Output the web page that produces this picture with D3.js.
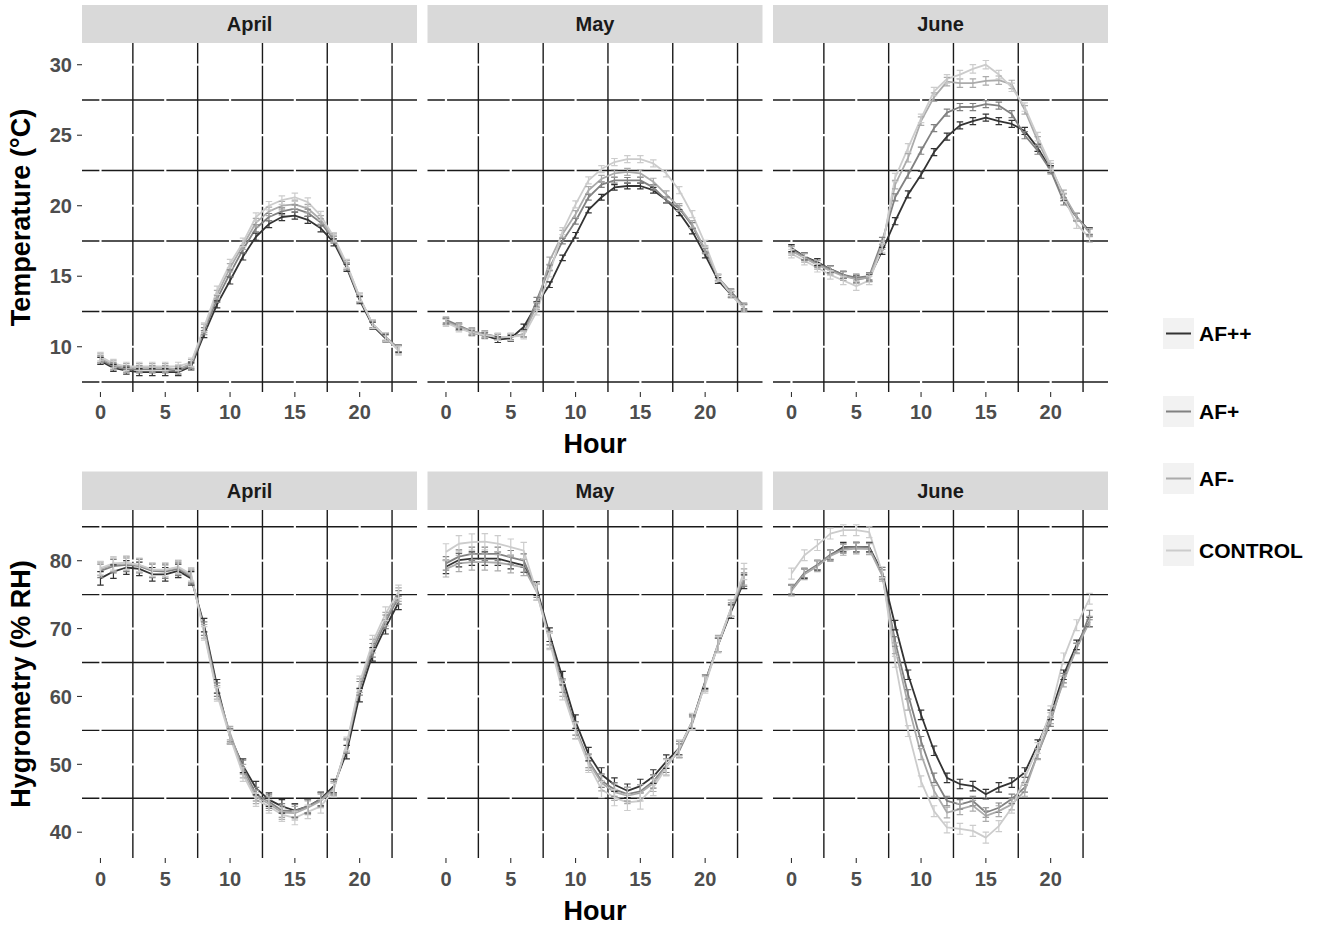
<!DOCTYPE html>
<html>
<head>
<meta charset="utf-8">
<script src="https://cdn.jsdelivr.net/npm/d3@7"></script>
<style>
  html, body { margin: 0; padding: 0; background: #ffffff; }
  svg { display: block; font-family: "Liberation Sans", Arial, sans-serif; }
</style>
</head>
<body>
<svg id="chart" width="1327" height="925"></svg>
<script>
// ---------------- DATA ----------------
const hours = [0,1,2,3,4,5,6,7,8,9,10,11,12,13,14,15,16,17,18,19,20,21,22,23];
const months = ["April", "May", "June"];
const seriesNames = ["AF++", "AF+", "AF-", "CONTROL"];
const seriesColors = ["#333333", "#818181", "#ABABAB", "#CCCCCC"];
const hourTicks = [0, 5, 10, 15, 20];
const tempTicks = [10, 15, 20, 25, 30];
const hygroTicks = [40, 50, 60, 70, 80];

// Temperature (°C)
const tempApril_AFpp = [9.0,8.5,8.3,8.2,8.2,8.2,8.2,8.6,10.9,13.0,14.7,16.4,17.8,18.7,19.2,19.3,19.0,18.4,17.4,15.6,13.3,11.5,10.6,9.85];
const tempApril_AFp  = [9.1,8.6,8.4,8.4,8.4,8.4,8.3,8.7,11.1,13.4,15.2,16.9,18.4,19.2,19.6,19.8,19.5,18.8,17.6,15.7,13.4,11.6,10.7,9.9];
const tempApril_AFm  = [9.2,8.7,8.5,8.5,8.5,8.5,8.4,8.8,11.3,13.7,15.6,17.2,18.8,19.6,20.0,20.1,19.8,19.0,17.7,15.8,13.5,11.6,10.7,9.8];
const tempApril_CTRL = [9.3,8.8,8.6,8.6,8.6,8.6,8.6,8.9,11.4,14.0,15.9,17.4,19.2,20.0,20.4,20.6,20.25,19.3,17.8,15.9,13.5,11.6,10.7,9.7];

const tempMay_AFpp = [11.8,11.4,11.0,10.8,10.5,10.6,11.4,13.0,14.4,16.3,17.9,19.7,20.6,21.3,21.4,21.4,21.1,20.4,19.5,18.2,16.5,14.7,13.7,12.8];
const tempMay_AFp  = [11.9,11.5,11.1,10.9,10.7,10.7,10.9,13.3,15.6,17.5,18.9,20.6,21.5,21.8,21.8,21.8,21.3,20.4,19.8,18.6,16.8,14.9,13.9,12.9];
const tempMay_AFm  = [11.8,11.4,11.1,10.9,10.7,10.7,10.9,12.9,16.1,18.0,19.4,21.1,21.9,22.3,22.4,22.3,21.7,20.8,19.9,18.7,16.9,14.9,13.8,12.8];
const tempMay_CTRL = [11.7,11.3,11.0,10.8,10.7,10.7,10.8,12.5,15.2,18.2,20.1,21.8,22.6,23.1,23.3,23.3,23.0,22.3,21.1,19.4,17.3,14.9,13.7,12.7];

const tempJune_AFpp = [17.0,16.4,16.0,15.5,15.1,14.8,14.9,16.8,18.9,20.8,22.2,23.8,24.9,25.7,26.0,26.25,26.0,25.8,25.3,24.1,22.6,20.6,19.2,18.2];
const tempJune_AFp  = [16.9,16.4,15.9,15.5,15.1,14.9,15.0,17.5,20.6,22.2,23.9,25.5,26.6,27.0,27.0,27.2,27.1,26.5,25.0,23.9,22.5,20.3,19.2,18.1];
const tempJune_AFm  = [16.8,16.3,15.8,15.4,15.0,14.8,14.9,17.2,21.5,23.4,26.0,27.7,28.8,28.7,28.7,28.85,28.9,28.6,26.8,24.6,22.7,20.8,19.2,18.1];
const tempJune_CTRL = [16.6,16.1,15.6,15.1,14.7,14.3,14.7,17.0,22.0,24.1,26.2,28.1,29.0,29.3,29.7,30.0,29.3,28.4,27.0,24.9,22.9,20.6,18.7,17.7];

// Hygrometry (% RH)
const hygroApril_AFpp = [77.4,78.4,79.0,78.8,78.0,78.0,78.5,77.4,70.5,61.5,54.0,49.8,46.5,44.8,43.8,43.2,43.8,44.9,46.8,51.8,60.2,66.2,70.2,73.8];
const hygroApril_AFp  = [78.5,79.2,79.4,79.2,78.5,78.4,78.8,77.6,70.0,61.0,54.3,49.6,45.6,44.5,43.2,43.1,43.8,44.8,46.5,52.6,61.2,66.8,71.0,74.6];
const hygroApril_AFm  = [78.8,79.4,79.6,79.3,78.6,78.6,79.0,77.8,69.6,60.6,54.6,49.0,45.2,44.2,42.9,42.8,43.6,44.6,46.4,52.8,61.6,67.4,71.4,75.0];
const hygroApril_CTRL = [78.9,79.6,79.7,79.4,78.7,78.7,79.1,78.0,69.3,60.3,54.0,48.5,44.8,43.8,42.6,42.1,43.0,43.8,46.2,53.0,62.0,68.0,72.2,75.4];

const hygroMay_AFpp = [79.1,80.1,80.3,80.3,80.3,79.8,79.3,75.9,69.1,62.7,56.3,51.5,48.5,47.0,46.1,46.8,48.2,50.4,52.4,56.3,62.2,67.6,72.5,76.9];
const hygroMay_AFp  = [79.6,80.6,81.0,81.0,81.0,80.5,80.0,75.6,68.6,61.6,55.3,50.5,47.6,46.3,45.6,46.0,47.5,49.8,52.0,56.0,62.0,67.6,72.8,77.2];
const hygroMay_AFm  = [78.8,79.6,79.8,79.8,79.7,79.4,79.0,75.4,68.3,61.2,55.0,50.3,47.3,45.9,45.4,45.8,47.2,49.6,52.2,56.2,62.0,67.8,73.0,77.6];
const hygroMay_CTRL = [81.3,82.5,82.75,82.8,82.5,82.0,81.5,75.4,68.1,60.7,54.9,50.0,46.3,45.1,44.4,44.6,46.6,49.5,52.4,56.3,61.7,67.6,73.0,78.4];

const hygroJune_AFpp = [75.7,78.1,79.3,80.8,82.0,82.0,82.0,78.3,70.5,63.2,57.3,52.0,48.0,47.1,46.8,45.6,46.6,47.3,48.8,52.9,57.3,63.2,67.6,71.0];
const hygroJune_AFp  = [75.8,78.2,79.4,80.9,81.8,82.0,81.9,78.0,68.1,60.3,53.4,48.0,44.6,44.1,44.6,42.9,43.6,44.9,46.6,51.5,56.3,62.7,67.1,72.0];
const hygroJune_AFm  = [75.6,78.0,79.2,80.7,81.6,81.8,81.7,77.8,67.1,58.8,51.5,46.1,42.9,43.4,43.9,42.4,43.1,44.1,46.1,51.5,56.8,62.2,67.1,71.0];
const hygroJune_CTRL = [78.1,80.8,82.3,84.0,84.5,84.5,84.2,78.3,65.1,54.9,47.5,43.1,40.7,40.5,40.2,39.2,40.9,43.6,48.0,52.4,57.8,65.6,70.5,74.4];

// Standard errors (one value per series, per month)
const seTempApril = [0.25, 0.25, 0.3, 0.3];
const seTempMay   = [0.2, 0.2, 0.25, 0.25];
const seTempJune  = [0.25, 0.25, 0.3, 0.3];
const seHygroApril = [1.0, 1.0, 1.0, 1.0];
const seHygroMay   = [1.0, 1.0, 1.2, 1.2];
const seHygroJune  = [0.7, 0.7, 0.8, 0.8];

// Assemble per-panel tables from the arrays above
const tempByMonth = {
  April: [tempApril_AFpp, tempApril_AFp, tempApril_AFm, tempApril_CTRL],
  May:   [tempMay_AFpp, tempMay_AFp, tempMay_AFm, tempMay_CTRL],
  June:  [tempJune_AFpp, tempJune_AFp, tempJune_AFm, tempJune_CTRL]
};
const hygroByMonth = {
  April: [hygroApril_AFpp, hygroApril_AFp, hygroApril_AFm, hygroApril_CTRL],
  May:   [hygroMay_AFpp, hygroMay_AFp, hygroMay_AFm, hygroMay_CTRL],
  June:  [hygroJune_AFpp, hygroJune_AFp, hygroJune_AFm, hygroJune_CTRL]
};
const seTempByMonth = { April: seTempApril, May: seTempMay, June: seTempJune };
const seHygroByMonth = { April: seHygroApril, May: seHygroMay, June: seHygroJune };

// ---------------- LAYOUT ----------------
const svg = d3.select("#chart");
const FONT = '"Liberation Sans", Arial, sans-serif';
const panelLeft0 = 82, panelW = 335, panelStep = 345.5;
const rows = [
  { key: "temp", stripTop: 5, top: 43, bottom: 392, domain: [6.79, 31.54], ticks: tempTicks,
    minor: [7.5, 12.5, 17.5, 22.5, 27.5], title: "Temperature (°C)",
    data: tempByMonth, se: seTempByMonth, tickLabelY: 411.5, hourY: 443 },
  { key: "hygro", stripTop: 471.5, top: 510, bottom: 858, domain: [36.2, 87.47], ticks: hygroTicks,
    minor: [45, 55, 65, 75, 85], title: "Hygrometry (% RH)",
    data: hygroByMonth, se: seHygroByMonth, tickLabelY: 878.5, hourY: 910 }
];
const xMinor = [2.5, 7.5, 12.5, 17.5, 22.5];
const xDomain = [-1.425, 24.425];

rows.forEach(row => {
  const y = d3.scaleLinear().domain(row.domain).range([row.bottom, row.top]);

  months.forEach((m, i) => {
    const left = panelLeft0 + i * panelStep;
    const x = d3.scaleLinear().domain(xDomain).range([left, left + panelW]);
    const g = svg.append("g");

    // strip
    g.append("rect").attr("x", left).attr("y", row.stripTop)
      .attr("width", panelW).attr("height", row.top - row.stripTop).attr("fill", "#D9D9D9");
    g.append("text").attr("x", left + panelW / 2).attr("y", (row.stripTop + row.top) / 2)
      .attr("dy", "0.36em").attr("text-anchor", "middle")
      .attr("font-family", FONT).attr("font-size", 20).attr("font-weight", "bold")
      .attr("fill", "#1A1A1A").text(m);

    // minor grid (black)
    g.selectAll(".vmin").data(xMinor).enter().append("line")
      .attr("x1", d => x(d)).attr("x2", d => x(d)).attr("y1", row.top).attr("y2", row.bottom)
      .attr("stroke", "#1a1a1a").attr("stroke-width", 1.4);
    g.selectAll(".hmin").data(row.minor).enter().append("line")
      .attr("x1", left).attr("x2", left + panelW).attr("y1", d => y(d)).attr("y2", d => y(d))
      .attr("stroke", "#1a1a1a").attr("stroke-width", 1.4);
    // major grid (white)
    g.selectAll(".vmaj").data(hourTicks).enter().append("line")
      .attr("x1", d => x(d)).attr("x2", d => x(d)).attr("y1", row.top).attr("y2", row.bottom)
      .attr("stroke", "#ffffff").attr("stroke-width", 2.2);
    g.selectAll(".hmaj").data(row.ticks).enter().append("line")
      .attr("x1", left).attr("x2", left + panelW).attr("y1", d => y(d)).attr("y2", d => y(d))
      .attr("stroke", "#ffffff").attr("stroke-width", 2.2);

    // x ticks and labels
    g.selectAll(".xt").data(hourTicks).enter().append("line")
      .attr("x1", d => x(d)).attr("x2", d => x(d)).attr("y1", row.bottom).attr("y2", row.bottom + 5)
      .attr("stroke", "#333333").attr("stroke-width", 1.1);
    g.selectAll(".xl").data(hourTicks).enter().append("text")
      .attr("x", d => x(d)).attr("y", row.tickLabelY).attr("dy", "0.36em")
      .attr("text-anchor", "middle").attr("font-family", FONT).attr("font-size", 20)
      .attr("font-weight", "bold").attr("fill", "#4D4D4D").text(d => d);

    // y ticks and labels (first column only)
    if (i === 0) {
      g.selectAll(".yt").data(row.ticks).enter().append("line")
        .attr("x1", left - 5).attr("x2", left).attr("y1", d => y(d)).attr("y2", d => y(d))
        .attr("stroke", "#333333").attr("stroke-width", 1.1);
      g.selectAll(".yl").data(row.ticks).enter().append("text")
        .attr("x", left - 10).attr("y", d => y(d)).attr("dy", "0.36em")
        .attr("text-anchor", "end").attr("font-family", FONT).attr("font-size", 20)
        .attr("font-weight", "bold").attr("fill", "#4D4D4D").text(d => d);
    }

    // series
    const values = row.data[m];
    const ses = row.se[m];
    const line = d3.line().x(d => x(d.h)).y(d => y(d.v));
    values.forEach((arr, s) => {
      const pts = hours.map((h, k) => ({ h: h, v: arr[k] }));
      g.append("path").datum(pts).attr("d", line)
        .attr("fill", "none").attr("stroke", seriesColors[s]).attr("stroke-width", 1.8)
        .attr("stroke-linejoin", "round");
    });
    values.forEach((arr, s) => {
      const pts = hours.map((h, k) => ({ h: h, v: arr[k], e: ses[s] }));
      g.selectAll(null).data(pts).enter().append("path")
        .attr("d", d => {
          const x0 = x(d.h - 0.25), x1 = x(d.h + 0.25), xc = x(d.h);
          const yl = y(d.v - d.e), yh = y(d.v + d.e);
          return `M${x0},${yh}H${x1}M${xc},${yh}V${yl}M${x0},${yl}H${x1}`;
        })
        .attr("fill", "none").attr("stroke", seriesColors[s]).attr("stroke-width", 1.2);
    });
  });

  // axis titles
  svg.append("text").attr("x", (panelLeft0 + panelLeft0 + 2 * panelStep + panelW) / 2)
    .attr("y", row.hourY).attr("dy", "0.36em").attr("text-anchor", "middle")
    .attr("font-family", FONT).attr("font-size", 27).attr("font-weight", "bold")
    .attr("fill", "#000").text("Hour");
  svg.append("text")
    .attr("transform", `translate(30,${(row.top + row.bottom) / 2}) rotate(-90)`)
    .attr("text-anchor", "middle").attr("font-family", FONT).attr("font-size", 27)
    .attr("font-weight", "bold").attr("fill", "#000").text(row.title);
});

// ---------------- LEGEND ----------------
const legendKeyTop = [318, 396, 463, 535];
const legend = svg.append("g");
seriesNames.forEach((name, s) => {
  const top = legendKeyTop[s];
  legend.append("rect").attr("x", 1163).attr("y", top).attr("width", 31).attr("height", 31)
    .attr("fill", "#F2F2F2");
  legend.append("line").attr("x1", 1166).attr("x2", 1191)
    .attr("y1", top + 15.5).attr("y2", top + 15.5)
    .attr("stroke", seriesColors[s]).attr("stroke-width", 2);
  legend.append("text").attr("x", 1199).attr("y", top + 15.5).attr("dy", "0.36em")
    .attr("font-family", FONT).attr("font-size", 21).attr("font-weight", "bold")
    .attr("fill", "#000").text(name);
});
</script>
</body>
</html>
